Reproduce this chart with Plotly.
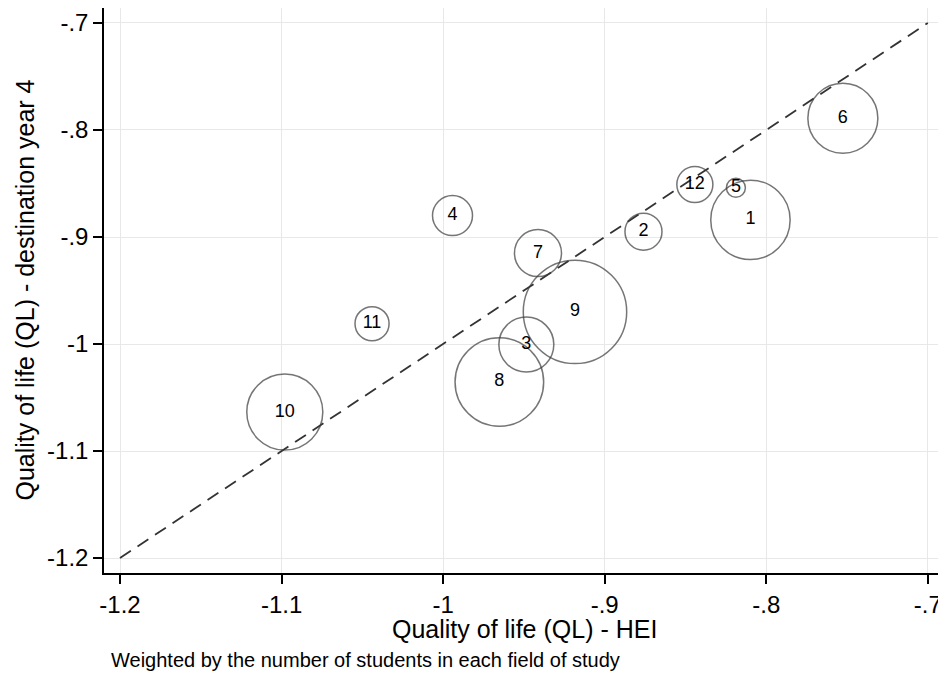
import plotly.graph_objects as go

# Data
fields = ["1", "2", "3", "4", "5", "6", "7", "8", "9", "10", "11", "12"]
ql_hei = [-0.8098, -0.876, -0.9485, -0.9942, -0.8188, -0.7526, -0.9413, -0.9652, -0.9184, -1.098, -1.044, -0.8442]
ql_dest4 = [-0.884, -0.895, -1.0005, -0.880, -0.854, -0.789, -0.915, -1.0355, -0.970, -1.0636, -0.981, -0.851]
students = [3150, 685, 1510, 800, 180, 2450, 1105, 3925, 5345, 2890, 580, 650]

diag = [-1.2, -0.7]
tick_vals = [-1.2, -1.1, -1.0, -0.9, -0.8, -0.7]
tick_text = ["-1.2", "-1.1", "-1", "-.9", "-.8", "-.7"]

FONT = "Liberation Sans, Arial, sans-serif"

fig = go.Figure()
fig.add_trace(go.Scatter(
    x=diag, y=diag, mode="lines",
    line=dict(color="#333333", width=1.8, dash="13px,8px"),
    hoverinfo="skip", showlegend=False,
))
fig.add_trace(go.Scatter(
    x=ql_hei, y=ql_dest4, mode="markers+text",
    text=fields, textposition="middle center",
    textfont=dict(family=FONT, size=18, color="black"),
    marker=dict(size=students, sizemode="area", sizeref=1.0,
                color="rgba(0,0,0,0)",
                line=dict(color="#3c3c3c", width=1.5)),
    showlegend=False,
))

axis_common = dict(
    showline=True, linecolor="black", linewidth=1.5, mirror=False,
    ticks="outside", ticklen=9, tickwidth=1.5, tickcolor="black",
    showgrid=True, gridcolor="#e8e8e8", gridwidth=1.2, zeroline=False,
    tickvals=tick_vals, ticktext=tick_text,
    tickfont=dict(family=FONT, size=24, color="black"),
)

# plot area: 840 x 565 px
fig.update_layout(
    width=938, height=669,
    paper_bgcolor="white", plot_bgcolor="white",
    margin=dict(l=96, r=2, t=0, b=104, autoexpand=False),
    xaxis=dict(range=[-1.2099, -0.690], **axis_common),
    yaxis=dict(range=[-1.214, -0.686], **axis_common),
    font=dict(family=FONT, color="black"),
    annotations=[
        dict(text="Quality of life (QL) - HEI", xref="paper", yref="paper",
             x=0.5, y=-56 / 565, xanchor="center", yanchor="middle",
             showarrow=False, font=dict(size=25, family=FONT, color="black")),
        dict(text="Quality of life (QL) - destination year 4", xref="paper", yref="paper",
             x=-80 / 840, y=0.5, xanchor="center", yanchor="middle", textangle=-90,
             showarrow=False, font=dict(size=25, family=FONT, color="black")),
        dict(text="Weighted by the number of students in each field of study",
             xref="paper", yref="paper", x=5 / 840, y=-87 / 565,
             xanchor="left", yanchor="middle",
             showarrow=False, font=dict(size=20, family=FONT, color="black")),
    ],
)

fig.write_html("out.html")
